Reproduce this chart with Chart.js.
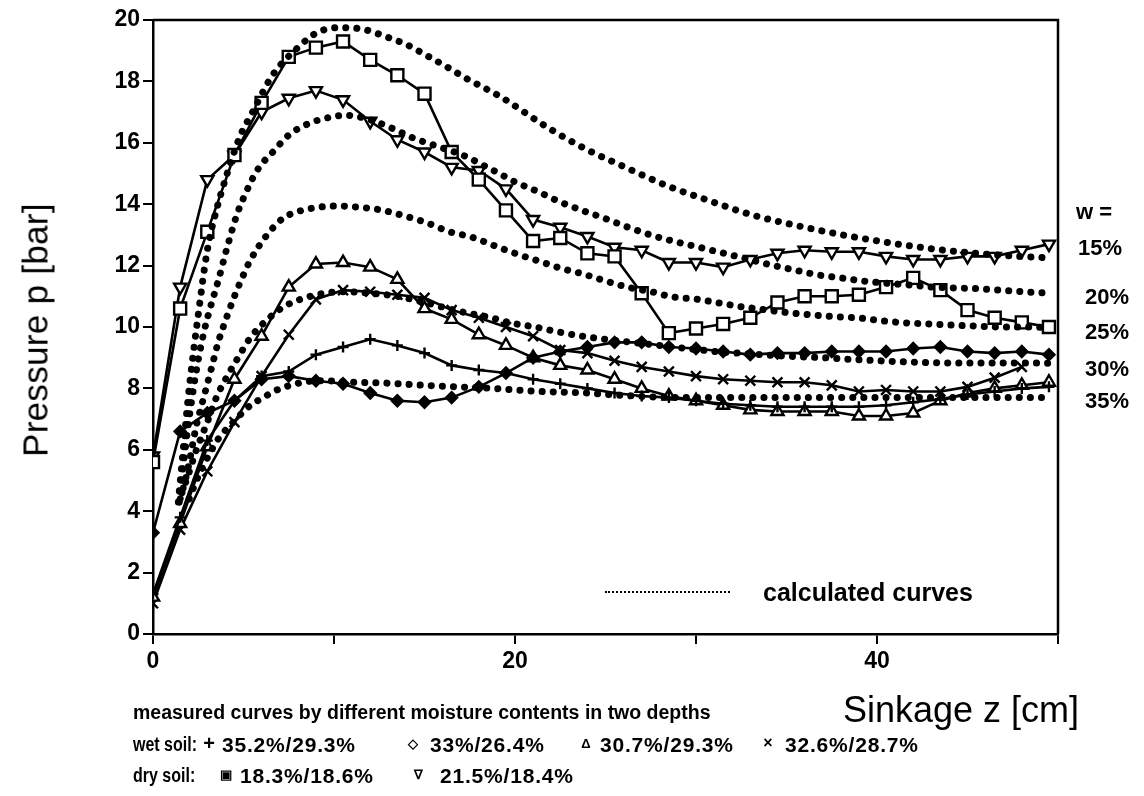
<!DOCTYPE html>
<html>
<head>
<meta charset="utf-8">
<script src="https://cdn.jsdelivr.net/npm/chart.js@4.4.0/dist/chart.umd.min.js"></script>
<style>
  html, body { margin: 0; padding: 0; background: #fff; }
  #wrap { position: relative; width: 1144px; height: 796px; font-family: "Liberation Sans", Arial, sans-serif; color: #000; }
  #chart { position: absolute; left: 0; top: 0; }
  .t { position: absolute; white-space: nowrap; line-height: 1; transform: translateY(-50%); }
  .b { font-weight: bold; }
  .row { font-size: 21px; font-weight: bold; letter-spacing: 0.8px; }
  .lab { font-size: 20px; font-weight: bold; transform: translateY(-50%) scaleX(0.8); transform-origin: 0 50%; }
  .m { position: absolute; white-space: nowrap; line-height: 1; transform: translate(-50%, -50%); font-weight: bold; }
</style>
</head>
<body>
<div id="wrap">
  <canvas id="chart" width="1144" height="796"></canvas>

  <div class="t" style="left:35px;top:330px;font-size:35px;letter-spacing:0.3px;transform:translate(-50%,-50%) rotate(-90deg);">Pressure p [bar]</div>
  <div class="t" style="left:843px;top:710px;font-size:36px;">Sinkage z [cm]</div>

  <div class="t b" style="left:1076px;top:212px;font-size:22px;">w =</div>
  <div class="t b" style="left:1078px;top:248px;font-size:22px;">15%</div>
  <div class="t b" style="left:1085px;top:297px;font-size:22px;">20%</div>
  <div class="t b" style="left:1085px;top:332px;font-size:22px;">25%</div>
  <div class="t b" style="left:1085px;top:369px;font-size:22px;">30%</div>
  <div class="t b" style="left:1085px;top:401px;font-size:22px;">35%</div>

  <div style="position:absolute;left:605px;top:591px;width:125px;border-top:2px dotted #000;"></div>
  <div class="t b" style="left:763px;top:592px;font-size:25px;">calculated curves</div>

  <div class="t b" style="left:133px;top:713px;font-size:19.5px;">measured curves by different moisture contents in two depths</div>

  <div class="t lab" style="left:133px;top:744px;">wet soil:</div>
  <div class="m" style="left:209px;top:743px;font-size:20px;">+</div>
  <div class="t row" style="left:222px;top:744px;">35.2%/29.3%</div>
  <div class="m" style="left:413px;top:743px;font-size:13px;">&#9671;</div>
  <div class="t row" style="left:430px;top:744px;">33%/26.4%</div>
  <div class="m" style="left:586px;top:743px;font-size:13px;">&#916;</div>
  <div class="t row" style="left:600px;top:744px;">30.7%/29.3%</div>
  <div class="m" style="left:768px;top:743px;font-size:16px;">&times;</div>
  <div class="t row" style="left:785px;top:744px;">32.6%/28.7%</div>

  <div class="t lab" style="left:133px;top:775px;">dry soil:</div>
  <div class="m" style="left:226px;top:774px;font-size:13px;">&#9635;</div>
  <div class="t row" style="left:240px;top:775px;">18.3%/18.6%</div>
  <div class="m" style="left:418px;top:774px;font-size:13px;">&#8711;</div>
  <div class="t row" style="left:440px;top:775px;">21.5%/18.4%</div>
</div>

<script>
// sinkage positions of the measured points [cm]
const zMeasured = [0, 1.5, 3, 4.5, 6, 7.5, 9, 10.5, 12, 13.5, 15, 16.5, 18, 19.5, 21, 22.5, 24,
  25.5, 27, 28.5, 30, 31.5, 33, 34.5, 36, 37.5, 39, 40.5, 42, 43.5, 45, 46.5, 48, 49.5];

// wet soil
const wetPlus = [1.3, 3.8, 6.3, 7.6, 8.4, 8.55, 9.1, 9.35, 9.6, 9.4, 9.15, 8.75, 8.6, 8.5, 8.3, 8.15, 8.0,
  7.85, 7.75, 7.7, 7.6, 7.5, 7.45, 7.4, 7.4, 7.4, 7.4, 7.45, 7.55, 7.65, 7.8, 7.9, 8.0, 8.05];
const wetDiamond = [3.3, 6.6, 7.2, 7.6, 8.3, 8.4, 8.25, 8.15, 7.85, 7.6, 7.55, 7.7, 8.05, 8.5, 9.0, 9.2, 9.35,
  9.5, 9.5, 9.35, 9.3, 9.2, 9.1, 9.15, 9.15, 9.2, 9.2, 9.2, 9.3, 9.35, 9.2, 9.15, 9.2, 9.1];
const wetTriangle = [1.2, 3.6, 6.1, 8.3, 9.7, 11.3, 12.05, 12.1, 11.95, 11.55, 10.6, 10.25, 9.75, 9.4, 9.0, 8.75, 8.6,
  8.3, 8.0, 7.75, 7.6, 7.45, 7.3, 7.25, 7.25, 7.25, 7.1, 7.1, 7.2, 7.6, 7.85, 8.0, 8.1, 8.2];
const wetCross = [1.0, 3.4, 5.3, 6.9, 8.4, 9.75, 10.9, 11.2, 11.15, 11.05, 10.95, 10.55, 10.3, 10.0, 9.7, 9.25, 9.15,
  8.9, 8.7, 8.55, 8.4, 8.3, 8.25, 8.2, 8.2, 8.1, 7.9, 7.95, 7.9, 7.9, 8.05, 8.35, 8.7, null];

// dry soil
const drySquare = [5.6, 10.6, 13.1, 15.6, 17.3, 18.8, 19.1, 19.3, 18.7, 18.2, 17.6, 15.7, 14.8, 13.8, 12.8, 12.9, 12.4,
  12.3, 11.1, 9.8, 9.95, 10.1, 10.3, 10.8, 11.0, 11.0, 11.05, 11.3, 11.6, 11.2, 10.55, 10.3, 10.15, 10.0];
const dryTriangle = [5.8, 11.3, 14.8, 15.6, 17.0, 17.45, 17.7, 17.4, 16.7, 16.1, 15.7, 15.2, 15.1, 14.5, 13.5, 13.25, 12.95,
  12.6, 12.5, 12.1, 12.1, 11.95, 12.2, 12.4, 12.5, 12.45, 12.45, 12.3, 12.2, 12.2, 12.3, 12.3, 12.5, 12.7];

// calculated curves, [z, p] for w = 15 .. 35 %
const calc15 = [[1.4, 4.3], [1.7, 6.2], [2.0, 8.0], [2.5, 10.4], [3.0, 12.5], [3.5, 13.8], [4.1, 15.0], [4.8, 16.2],
  [5.5, 17.0], [6.6, 18.2], [8.0, 19.1], [9.1, 19.6], [10.3, 19.75], [11.6, 19.7], [12.9, 19.45], [14.0, 19.2],
  [15.1, 18.85], [16.3, 18.45], [17.3, 18.1], [19.2, 17.5], [21.8, 16.5], [23.9, 15.8], [26.1, 15.2], [28.4, 14.6],
  [30.8, 14.1], [33.1, 13.65], [35.6, 13.3], [38.1, 13.0], [40.6, 12.75], [43.0, 12.55], [45.5, 12.4], [47.9, 12.3],
  [49.6, 12.25]];
const calc20 = [[1.45, 4.3], [1.9, 6.6], [2.4, 8.6], [2.8, 9.8], [3.15, 10.6], [3.6, 11.5], [4.1, 12.6], [4.6, 13.6],
  [5.0, 14.2], [5.75, 15.1], [6.7, 15.75], [7.5, 16.25], [8.7, 16.65], [9.95, 16.85], [10.6, 16.9], [11.3, 16.85],
  [12.0, 16.75], [13.1, 16.5], [14.4, 16.15], [15.9, 15.85], [17.1, 15.6], [18.8, 15.1], [20.1, 14.7], [21.3, 14.4],
  [22.5, 14.07], [23.7, 13.8], [24.9, 13.55], [26.2, 13.26], [27.5, 13.0], [28.7, 12.8], [29.8, 12.65], [31.2, 12.45],
  [32.6, 12.25], [34.3, 12.0], [35.5, 11.85], [36.7, 11.7], [38.0, 11.6], [39.2, 11.5], [40.6, 11.42], [41.8, 11.37],
  [43.1, 11.3], [45.5, 11.25], [46.8, 11.2], [48.0, 11.15], [49.6, 11.1]];
const calc25 = [[1.5, 4.4], [1.9, 5.3], [2.4, 6.8], [2.8, 7.7], [3.25, 8.7], [3.6, 9.5], [4.0, 10.2], [4.5, 11.0],
  [5.0, 11.7], [5.4, 12.2], [6.3, 13.0], [7.2, 13.55], [7.7, 13.7], [8.8, 13.87], [10.2, 13.94], [11.4, 13.9],
  [12.7, 13.8], [14.0, 13.6], [15.1, 13.4], [16.4, 13.1], [17.6, 12.93], [18.9, 12.64], [20.1, 12.38], [21.3, 12.15],
  [22.5, 11.92], [23.8, 11.72], [25.0, 11.5], [26.2, 11.3], [27.6, 11.14], [28.7, 10.98], [30.1, 10.9], [31.3, 10.78],
  [32.6, 10.65], [33.3, 10.6], [35.2, 10.46], [36.5, 10.39], [37.8, 10.33], [39.1, 10.29], [40.3, 10.2], [41.7, 10.13],
  [42.9, 10.1], [44.2, 10.06], [45.5, 10.03], [46.8, 10.0], [48.1, 10.0], [49.6, 9.98]];
const calc30 = [[1.6, 4.6], [1.9, 5.1], [2.4, 6.0], [3.0, 6.9], [3.5, 7.7], [4.1, 8.4], [4.7, 9.0], [5.4, 9.67],
  [6.3, 10.23], [7.2, 10.65], [8.4, 10.95], [9.5, 11.1], [10.6, 11.15], [12.0, 11.1], [13.5, 11.0], [15.0, 10.8],
  [17.0, 10.5], [18.7, 10.3], [19.8, 10.13], [21.1, 10.0], [22.4, 9.84], [23.7, 9.7], [25.0, 9.6], [26.5, 9.5],
  [28.0, 9.4], [29.8, 9.28], [31.3, 9.19], [33.1, 9.12], [35.0, 9.05], [37.0, 9.0], [39.1, 8.93], [41.7, 8.86],
  [44.2, 8.83], [46.8, 8.83], [49.6, 8.82]];
const calc35 = [[2.0, 4.4], [2.4, 5.0], [2.8, 5.5], [3.2, 5.95], [3.6, 6.35], [4.1, 6.7], [4.6, 7.0], [5.0, 7.25],
  [5.5, 7.5], [6.1, 7.7], [6.6, 7.88], [7.3, 8.05], [8.5, 8.22], [9.5, 8.25], [11.0, 8.2], [13.0, 8.17], [15.0, 8.1],
  [16.8, 8.05], [18.8, 8.0], [21.4, 7.9], [24.0, 7.85], [25.2, 7.8], [27.8, 7.72], [30.4, 7.7], [33.0, 7.7],
  [36.0, 7.7], [40.0, 7.7], [44.0, 7.7], [48.6, 7.7], [49.6, 7.7]];

const xLabelled = [0, 20, 40];

function measured(values) {
  return zMeasured.map((z, i) => ({ x: z, y: values[i] })).filter(p => p.y !== null);
}
function curve(pairs) {
  return pairs.map(p => ({ x: p[0], y: p[1] }));
}

function dotted(label, pairs) {
  return {
    label: label,
    data: curve(pairs),
    borderColor: '#000',
    borderWidth: 7,
    borderDash: [0.1, 11],
    borderCapStyle: 'round',
    cubicInterpolationMode: 'monotone',
    pointRadius: 0,
    fill: false
  };
}

function solid(label, values, style, radius, bg, rotation) {
  return {
    label: label,
    data: measured(values),
    borderColor: '#000',
    borderWidth: 2.6,
    tension: 0,
    pointStyle: style,
    pointRadius: radius,
    pointRotation: rotation || 0,
    pointBorderColor: '#000',
    pointBackgroundColor: bg,
    pointBorderWidth: 2.4,
    fill: false
  };
}

const frame = {
  id: 'frame',
  afterDatasetsDraw(chart) {
    const a = chart.chartArea;
    const ctx = chart.ctx;
    ctx.save();
    ctx.strokeStyle = '#000';
    ctx.lineWidth = 2.5;
    ctx.beginPath();
    ctx.moveTo(a.left, a.top);
    ctx.lineTo(a.right, a.top);
    ctx.lineTo(a.right, a.bottom);
    ctx.stroke();
    ctx.restore();
  }
};

new Chart(document.getElementById('chart'), {
  type: 'line',
  data: {
    datasets: [
      dotted('w = 15%', calc15),
      dotted('w = 20%', calc20),
      dotted('w = 25%', calc25),
      dotted('w = 30%', calc30),
      dotted('w = 35%', calc35),
      solid('35.2%/29.3%', wetPlus, 'cross', 5.5, '#000'),
      solid('33%/26.4%', wetDiamond, 'rectRot', 5.5, '#000'),
      solid('30.7%/29.3%', wetTriangle, 'triangle', 7, '#fff'),
      solid('32.6%/28.7%', wetCross, 'crossRot', 7, '#000'),
      solid('18.3%/18.6%', drySquare, 'rect', 8.5, '#fff'),
      solid('21.5%/18.4%', dryTriangle, 'triangle', 7, '#fff', 180)
    ]
  },
  options: {
    responsive: false,
    animation: false,
    layout: { padding: { left: 0, top: 20, right: 86, bottom: 122 } },
    plugins: {
      legend: { display: false },
      tooltip: { enabled: false }
    },
    scales: {
      x: {
        type: 'linear',
        min: 0,
        max: 50,
        ticks: {
          stepSize: 10,
          color: '#000',
          padding: 4,
          font: { family: 'Liberation Sans', size: 23, weight: 'bold' },
          callback: v => xLabelled.includes(v) ? String(v) : ''
        },
        grid: { drawOnChartArea: false, drawTicks: true, tickLength: 10, color: '#000', lineWidth: 2 },
        border: { color: '#000', width: 2.5 },
        afterFit: s => { s.height = 40; }
      },
      y: {
        min: 0,
        max: 20,
        ticks: {
          stepSize: 2,
          color: '#000',
          padding: 3,
          font: { family: 'Liberation Sans', size: 23, weight: 'bold' }
        },
        grid: { drawOnChartArea: false, drawTicks: true, tickLength: 10, color: '#000', lineWidth: 2 },
        border: { color: '#000', width: 2.5 },
        afterFit: s => { s.width = 153; }
      }
    }
  },
  plugins: [frame]
});
</script>
</body>
</html>
